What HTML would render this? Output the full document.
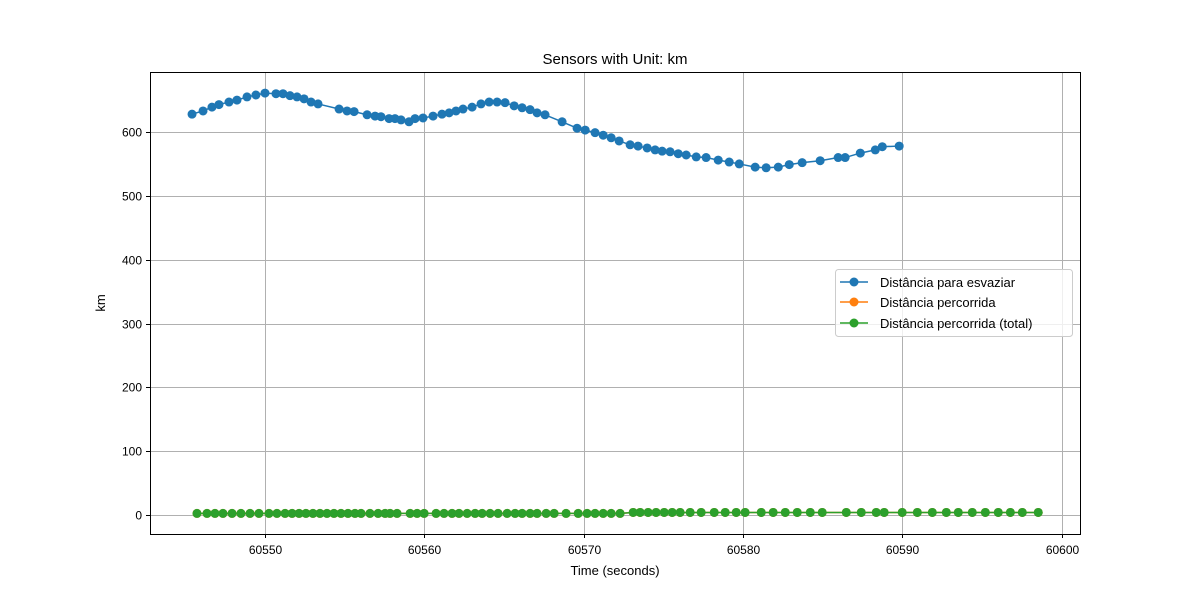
<!DOCTYPE html>
<html><head><meta charset="utf-8"><style>
body{margin:0;background:#fff;}
svg{font-family:"Liberation Sans","DejaVu Sans",sans-serif;}
</style></head><body>
<svg id="chart" width="1200" height="600" viewBox="0 0 1200 600">
<rect width="1200" height="600" fill="#fff"/>
<text x="615" y="64" font-size="15" text-anchor="middle">Sensors with Unit: km</text>
<g id="grid"></g><g id="series"></g>
<rect x="150.5" y="72.5" width="930" height="462" fill="none" stroke="#000" stroke-width="1"/>
<g id="ticks" font-size="12"></g>
<text x="615" y="575" font-size="13" text-anchor="middle">Time (seconds)</text>
<text x="105" y="303" font-size="13" text-anchor="middle" transform="rotate(-90 105 303)">km</text>
<g>
<rect x="835.5" y="269.5" width="237" height="67" rx="3" fill="#fff" fill-opacity="0.8" stroke="#ccc"/>
<g><line x1="840" y1="282" x2="868" y2="282" stroke="#1f77b4" stroke-width="1.5"/><circle cx="854" cy="282" r="4.5" fill="#1f77b4"/><text x="880" y="287" font-size="13">Distância para esvaziar</text></g>
<g><line x1="840" y1="302" x2="868" y2="302" stroke="#ff7f0e" stroke-width="1.5"/><circle cx="854" cy="302" r="4.5" fill="#ff7f0e"/><text x="880" y="307" font-size="13">Distância percorrida</text></g>
<g><line x1="840" y1="323" x2="868" y2="323" stroke="#2ca02c" stroke-width="1.5"/><circle cx="854" cy="323" r="4.5" fill="#2ca02c"/><text x="880" y="328" font-size="13">Distância percorrida (total)</text></g>
</g>
</svg>
<script>
const xTicks=[60550,60560,60570,60580,60590,60600];
const yTicks=[0,100,200,300,400,500,600];
const blueT=[60545.42,60546.11,60546.67,60547.11,60547.74,60548.24,60548.87,60549.43,60550,60550.69,60551.13,60551.57,60552.01,60552.45,60552.89,60553.33,60554.65,60555.15,60555.59,60556.41,60556.91,60557.28,60557.79,60558.16,60558.54,60559.04,60559.42,60559.92,60560.55,60561.11,60561.56,60561.99,60562.43,60563.00,60563.56,60564.07,60564.57,60565.07,60565.64,60566.14,60566.64,60567.08,60567.58,60568.65,60569.59,60570.10,60570.72,60571.23,60571.73,60572.23,60572.92,60573.42,60573.99,60574.49,60574.93,60575.43,60575.94,60576.44,60577.07,60577.69,60578.45,60579.14,60579.77,60580.77,60581.46,60582.22,60582.91,60583.72,60584.85,60585.98,60586.42,60587.37,60588.31,60588.75,60589.81];
const blueV=[628,633,639,643,647,650,655,658,661,660,660,657,655,652,647,644,636,633,632,627,625,624,621,621,619,616,621,622,625,628,630,633,636,639,644,647,647,646,641,638,635,630,627,616,606,603,599,595,591,586,580,578,575,572,570,569,566,564,561,560,556,553,550,545,544,545,549,552,555,560,560,567,572,577,578];
const greenT=[60545.73,60546.36,60546.86,60547.36,60547.93,60548.49,60549.06,60549.62,60550.25,60550.75,60551.26,60551.70,60552.14,60552.57,60553.01,60553.45,60553.89,60554.33,60554.77,60555.21,60555.65,60556.03,60556.59,60557.10,60557.54,60557.85,60558.29,60559.11,60559.55,60559.99,60560.74,60561.24,60561.74,60562.18,60562.69,60563.19,60563.63,60564.13,60564.63,60565.20,60565.70,60566.14,60566.64,60567.08,60567.65,60568.15,60568.90,60569.66,60570.22,60570.72,60571.23,60571.73,60572.29,60573.11,60573.55,60574.05,60574.55,60575.06,60575.56,60576.06,60576.69,60577.38,60578.20,60578.89,60579.58,60580.14,60581.15,60581.90,60582.66,60583.41,60584.23,60584.98,60586.49,60587.43,60588.37,60588.87,60590.00,60590.95,60591.89,60592.77,60593.52,60594.40,60595.22,60596.03,60596.79,60597.54,60598.54];
const greenV=[2.5,2.5,2.5,2.5,2.5,2.5,2.5,2.5,2.5,2.5,2.5,2.5,2.5,2.5,2.5,2.5,2.5,2.5,2.5,2.5,2.5,2.5,2.5,2.5,2.5,2.5,2.5,2.5,2.5,2.5,2.5,2.5,2.5,2.5,2.5,2.5,2.5,2.5,2.5,2.5,2.5,2.5,2.5,2.5,2.5,2.5,2.5,2.5,2.5,2.5,2.5,2.5,2.5,4,4,4,4,4,4,4,4,4,4,4,4,4,4,4,4,4,4,4,4,4,4,4,4,4,4,4,4,4,4,4,4,4,4];
const xS=t=>265+(t-60550)*15.93;
const yS=v=>515-v*0.6383;
const NS='http://www.w3.org/2000/svg';
function mk(tag,attrs,parent){const e=document.createElementNS(NS,tag);for(const k in attrs)e.setAttribute(k,attrs[k]);parent.appendChild(e);return e;}
const grid=document.getElementById('grid'),ticks=document.getElementById('ticks'),series=document.getElementById('series');
xTicks.forEach(t=>{const x=Math.round(xS(t))+0.5;
const g=mk('line',{x1:x,x2:x,y1:72,y2:534,stroke:'#b0b0b0','stroke-width':1},grid);


mk('line',{x1:x,x2:x,y1:534,y2:538,stroke:'#000'},ticks);
const l=mk('text',{x:x,y:554,'text-anchor':'middle'},ticks);l.textContent=t;

});
yTicks.forEach(v=>{const y=Math.round(yS(v))+0.5;
const g=mk('line',{x1:150,x2:1080,y1:y,y2:y,stroke:'#b0b0b0','stroke-width':1},grid);


mk('line',{x1:146,x2:150,y1:y,y2:y,stroke:'#000'},ticks);
const l=mk('text',{x:142,y:y+4,'text-anchor':'end'},ticks);l.textContent=v;

});
function draw(T,V,color,name){
const g=mk('g',{},series);


const p=mk('polyline',{points:T.map((t,i)=>xS(t)+','+yS(V[i])).join(' '),fill:'none',stroke:color,'stroke-width':1.5},g);


T.forEach((t,i)=>{const c=mk('circle',{cx:xS(t),cy:yS(V[i]),r:4.5,fill:color},g);

});}
draw(blueT,blueV,'#1f77b4','series-distancia-para-esvaziar');
draw(greenT,greenV,'#ff7f0e','series-distancia-percorrida');
draw(greenT,greenV,'#2ca02c','series-distancia-percorrida-total');
</script>
</body></html>
